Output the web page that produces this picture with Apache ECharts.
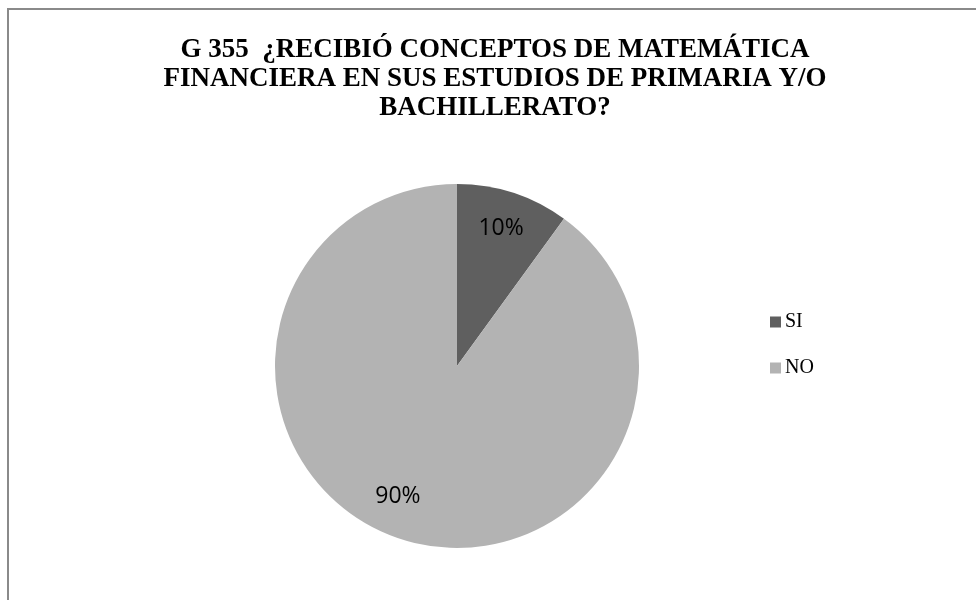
<!DOCTYPE html>
<html>
<head>
<meta charset="utf-8">
<script src="https://cdn.jsdelivr.net/npm/echarts@6/dist/echarts.min.js"></script>
<style>
  html, body { margin: 0; padding: 0; background: #fff; }
  #chart { width: 976px; height: 600px; }
</style>
</head>
<body>
<div id="chart"></div>
<script>
// datos del gráfico
var categorias = ['SI', 'NO'];
var porcentajes = [10, 90];
var colores = ['#5f5f5f', '#b3b3b3'];
// desplazamiento de etiquetas (ajuste tipo Excel "mejor ajuste")
var ajusteEtiquetas = [[15, -48], [-30, 41]];

var chart = echarts.init(document.getElementById('chart'));

var datos = categorias.map(function (c, i) {
  return { name: c, value: porcentajes[i], itemStyle: { color: colores[i] } };
});

var option = {
  backgroundColor: '#fff',
  animation: false,
  title: {
    text: 'G 355  ¿RECIBIÓ CONCEPTOS DE MATEMÁTICA\nFINANCIERA EN SUS ESTUDIOS DE PRIMARIA Y/O\nBACHILLERATO?',
    left: 490,
    textAlign: 'center',
    top: 31,
    textStyle: {
      fontFamily: 'Liberation Serif',
      fontWeight: 'bold',
      fontSize: 27,
      lineHeight: 29,
      color: '#000'
    }
  },
  legend: {
    orient: 'vertical',
    left: 765,
    top: 307,
    itemWidth: 11,
    itemHeight: 11,
    itemGap: 26,
    icon: 'rect',
    data: categorias,
    textStyle: {
      fontFamily: 'Liberation Serif',
      fontSize: 20,
      color: '#000',
      padding: [0, 0, 0, -1]
    }
  },
  graphic: [
    {
      type: 'rect',
      shape: { x: 8, y: 9, width: 1200, height: 1200 },
      style: { fill: 'none', stroke: '#8a8a8a', lineWidth: 2 },
      silent: true
    }
  ],
  series: [
    {
      name: 'G 355',
      type: 'pie',
      center: [457, 366],
      radius: 182,
      startAngle: 90,
      clockwise: true,
      data: datos,
      label: {
        show: true,
        position: 'inside',
        formatter: '{c}%',
        fontFamily: 'Open Sans',
        fontSize: 23,
        color: '#000'
      },
      labelLine: { show: false },
      labelLayout: function (params) {
        var d = ajusteEtiquetas[params.dataIndex];
        return { dx: d[0], dy: d[1] };
      },
      emphasis: { disabled: true }
    }
  ]
};

chart.setOption(option);
</script>
</body>
</html>
